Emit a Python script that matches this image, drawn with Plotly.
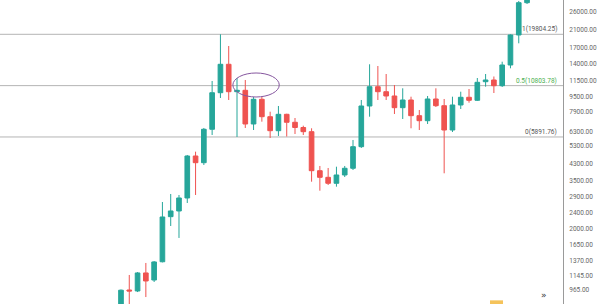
import math
import pandas as pd
import plotly.graph_objects as go

# ---- data (monthly candles) ----
months = [str(p) for p in pd.period_range("2016-12", "2021-01", freq="M")]

opens = [746, 967, 956, 1183, 1088, 1350, 2299, 2459, 2867, 4707, 4349, 6452, 9937, 13899, 10056,
         10224, 6868, 9194, 7486, 6346, 7701, 7008, 6589, 6272, 3957, 3659, 3410, 3762, 4071, 5254,
         8495, 10669, 10056, 9559, 8327, 9118, 7576, 7141, 9227, 8524, 6398, 8596, 9414, 9086, 11317,
         11548, 10796, 13785, 19650, 28766]
highs = [973, 1155, 1196, 1331, 1362, 2734, 3005, 2970, 4764, 4953, 6552, 11412, 19804.25, 17252, 11822,
         11547, 9446, 9446, 7942, 8495, 7750, 7372, 6732, 6528, 4183, 4085, 4148, 4183, 5686, 9118,
         13899, 13621, 12394, 10885, 10468, 9480, 8103, 9559, 10468, 9227, 9480, 10056, 10382, 11822, 12394,
         12034, 14333, 19800, 29360, 31877]
lows = [735, 801, 944, 890, 1063, 1340, 2059, 1788, 2702, 2970, 4233, 6032, 9336, 9118, 5892,
        6552, 6398, 7058, 5821, 5961, 5925, 6103, 6032, 3475, 3124, 3342, 3276, 3672, 3989, 5174,
        7486, 9118, 9118, 7729, 7286, 6528, 6398, 6868, 8395, 3837, 6247, 8199, 8833, 9011, 10669,
        9903, 10631, 13257, 17810, 28327]
closes = [965, 956, 1183, 1076, 1347, 2291, 2459, 2867, 4707, 4349, 6452, 9937, 13899, 10056, 10224,
          6868, 9194, 7486, 6346, 7701, 7008, 6589, 6272, 3957, 3659, 3410, 3762, 4071, 5254, 8495,
          10669, 10056, 9559, 8327, 9118, 7576, 7141, 9227, 8524, 6398, 8596, 9414, 9086, 11237, 11548,
          10796, 13785, 19650, 28766, 31134]

tick_values = [26000, 21000, 17000, 14000, 11500, 9500, 7900, 6300, 5300, 4300, 3500, 2900,
               2400, 2000, 1650, 1370, 1145, 965]

fib_levels = [1, 0.5, 0]
fib_prices = [19804.25, 10803.78, 5891.76]
fib_text_colors = ["#555555", "#4caf50", "#555555"]

# ellipse drawing (month index range, price range)
ellipse_x = [13.5, 19.1]
ellipse_y = [9447, 12542]

# ---- figure ----
fig = go.Figure(go.Candlestick(
    x=months, open=opens, high=highs, low=lows, close=closes,
    increasing=dict(line=dict(color="#26a69a", width=1), fillcolor="#26a69a"),
    decreasing=dict(line=dict(color="#ef5350", width=1), fillcolor="#ef5350"),
    whiskerwidth=0, hoverinfo="skip", showlegend=False,
))

shapes = []
annotations = []
for lvl, p, c in zip(fib_levels, fib_prices, fib_text_colors):
    shapes.append(dict(type="line", xref="paper", x0=0, x1=1, yref="y", y0=p, y1=p,
                       line=dict(color="#b4b4b4", width=1), layer="below"))
    annotations.append(dict(xref="paper", x=0.993, xanchor="right", yref="y", y=math.log10(p),
                            yanchor="bottom", yshift=-1, showarrow=False,
                            text=f"{lvl:g}({p:.2f})",
                            font=dict(family="Roboto", size=6.5, color=c)))

shapes.append(dict(type="circle", xref="x", yref="y",
                   x0=ellipse_x[0], x1=ellipse_x[1], y0=ellipse_y[0], y1=ellipse_y[1],
                   line=dict(color="#86579f", width=1)))

# TradingView-ish small widgets at the bottom
annotations.append(dict(xref="paper", yref="paper", x=0.975, y=0.0, yanchor="bottom", yshift=2,
                        showarrow=False,
                        text="»", font=dict(family="DejaVu Sans", size=9, color="#333333")))
shapes.append(dict(type="rect", xref="paper", yref="paper", x0=490/563, x1=503/563, y0=-0.01, y1=0.012,
                   fillcolor="#f5c35b", line=dict(width=0)))

fig.update_layout(
    width=600, height=304,
    margin=dict(l=0, r=37, t=0, b=0),
    paper_bgcolor="white", plot_bgcolor="white",
    boxgap=0.2,
    shapes=shapes, annotations=annotations,
    xaxis=dict(type="category", range=[-14.6, 53.34], visible=False,
               rangeslider=dict(visible=False), showgrid=False),
    yaxis=dict(type="log", range=[2.9137, 4.4727], side="right",
               tickvals=tick_values, ticktext=[f"{v:.2f}" for v in tick_values],
               tickfont=dict(family="Roboto", size=6.5, color="#666666"),
               showgrid=False, zeroline=False, showline=True, linecolor="#9a9a9a", linewidth=1,
               ticks="", ticklabelstandoff=4),
    showlegend=False,
)

fig.write_html("out.html")
